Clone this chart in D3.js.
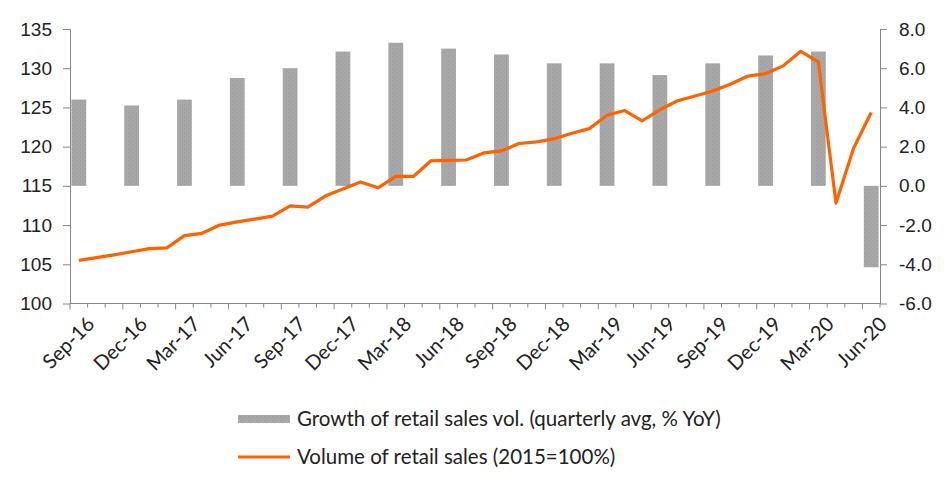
<!DOCTYPE html>
<html>
<head>
<meta charset="utf-8">
<script src="https://cdn.jsdelivr.net/npm/d3@7"></script>
<style>
  body { margin: 0; background: #fff; }
  svg { display: block; font-family: Lato, "Noto Sans", sans-serif; }
  .axis text { fill: #222; font-size: 19px; }
  .axis .lbl { font-size: 20px; }
  .legend text { fill: #222; font-size: 20.5px; }
  .axis path, .axis line { stroke: #868686; }
</style>
</head>
<body>
<div id="chart"></div>
<script>
// monthly categories Sep-16 .. Jun-20
var months = ["Sep-16","Oct-16","Nov-16","Dec-16","Jan-17","Feb-17","Mar-17","Apr-17","May-17","Jun-17",
  "Jul-17","Aug-17","Sep-17","Oct-17","Nov-17","Dec-17","Jan-18","Feb-18","Mar-18","Apr-18","May-18","Jun-18",
  "Jul-18","Aug-18","Sep-18","Oct-18","Nov-18","Dec-18","Jan-19","Feb-19","Mar-19","Apr-19","May-19","Jun-19",
  "Jul-19","Aug-19","Sep-19","Oct-19","Nov-19","Dec-19","Jan-20","Feb-20","Mar-20","Apr-20","May-20","Jun-20"];

// Volume of retail sales (2015=100%), left axis
var volume = [105.5, 105.85, 106.2, 106.6, 107.0, 107.1, 108.65, 108.95, 110.0, 110.4,
  110.75, 111.15, 112.45, 112.3, 113.7, 114.6, 115.5, 114.75, 116.2, 116.2, 118.2,
  118.25, 118.3, 119.2, 119.45, 120.4, 120.6, 121.0, 121.7, 122.3, 124.0, 124.6,
  123.3, 124.7, 125.85, 126.45, 127.1, 127.95, 129.0, 129.3, 130.3, 132.15, 130.8,
  112.8, 119.8, 124.35];

// Growth of retail sales vol. (quarterly avg, % YoY), right axis
var quarters = ["Sep-16","Dec-16","Mar-17","Jun-17","Sep-17","Dec-17","Mar-18","Jun-18",
  "Sep-18","Dec-18","Mar-19","Jun-19","Sep-19","Dec-19","Mar-20","Jun-20"];
var growth = [4.4, 4.1, 4.4, 5.5, 6.0, 6.85, 7.3, 7.0, 6.7, 6.25, 6.25, 5.65, 6.25, 6.65, 6.85, -4.15];

var leftTicks = [100, 105, 110, 115, 120, 125, 130, 135];
var rightTicks = [-6, -4, -2, 0, 2, 4, 6, 8];

var legendLabels = ["Growth of retail sales vol. (quarterly avg, % YoY)", "Volume of retail sales (2015=100%)"];

var width = 952, height = 491;
var margin = {top: 29, right: 72, bottom: 187.5, left: 70};

var svg = d3.select("#chart").append("svg")
    .attr("width", width)
    .attr("height", height);

var defs = svg.append("defs");
var pat = defs.append("pattern")
    .attr("id", "dots")
    .attr("width", 4).attr("height", 4)
    .attr("patternUnits", "userSpaceOnUse");
pat.append("rect").attr("width", 4).attr("height", 4).attr("fill", "#a8a8a8");
pat.append("rect").attr("x", 0).attr("y", 0).attr("width", 1).attr("height", 1).attr("fill", "#9a9a9a");
pat.append("rect").attr("x", 2).attr("y", 2).attr("width", 1).attr("height", 1).attr("fill", "#9c9c9c");

var x = d3.scaleBand()
    .domain(months)
    .range([margin.left, width - margin.right])
    .padding(0);

var yL = d3.scaleLinear()
    .domain([100, 135])
    .range([height - margin.bottom, margin.top]);

var yR = d3.scaleLinear()
    .domain([-6, 8])
    .range([height - margin.bottom, margin.top]);

var bw = x.bandwidth();
var barW = bw * 0.84;

// bars
svg.append("g")
    .selectAll("rect")
    .data(quarters)
    .join("rect")
    .attr("x", function(d) { return x(d) + bw / 2 - barW / 2; })
    .attr("width", barW)
    .attr("y", function(d, i) { return yR(Math.max(0, growth[i])); })
    .attr("height", function(d, i) { return Math.abs(yR(growth[i]) - yR(0)); })
    .attr("fill", "url(#dots)");

// left axis
svg.append("g")
    .attr("class", "axis")
    .attr("transform", "translate(" + margin.left + ",0)")
    .call(d3.axisLeft(yL).tickValues(leftTicks).tickSize(7).tickPadding(11).tickSizeOuter(0).tickFormat(d3.format("d")));

// right axis
svg.append("g")
    .attr("class", "axis")
    .attr("transform", "translate(" + (width - margin.right) + ",0)")
    .call(d3.axisRight(yR).tickValues(rightTicks).tickSize(7).tickPadding(12).tickSizeOuter(0)
        .tickFormat(function(d) { return d.toFixed(1); }));

// x axis: line, tick marks at category boundaries, labels every quarter
var xg = svg.append("g").attr("class", "axis");
var y0 = height - margin.bottom;
xg.append("line")
    .attr("x1", margin.left).attr("x2", width - margin.right)
    .attr("y1", y0).attr("y2", y0);
var bounds = months.map(function(m) { return x(m); }).concat([x.range()[1]]);
xg.selectAll(".tk")
    .data(bounds)
    .join("line")
    .attr("class", "tk")
    .attr("x1", function(d) { return d; }).attr("x2", function(d) { return d; })
    .attr("y1", y0)
    .attr("y2", function(d, i) { return i % 3 == 0 ? y0 + 6 : y0 + 4; });
xg.selectAll(".lbl")
    .data(quarters)
    .join("text")
    .attr("class", "lbl")
    .attr("text-anchor", "end")
    .attr("transform", function(d) {
        return "translate(" + (x(d) + bw / 2 + 7) + "," + (y0 + 12) + ") rotate(-45)";
    })
    .attr("dy", "0.7em")
    .text(function(d) { return d; });

// line
var line = d3.line()
    .x(function(d, i) { return x(months[i]) + bw / 2; })
    .y(function(d) { return yL(d); });

svg.append("path")
    .datum(volume)
    .attr("d", line)
    .attr("fill", "none")
    .attr("stroke", "#ff6200")
    .attr("stroke-width", 3.2)
    .attr("stroke-linejoin", "round");

// legend
var lg = svg.append("g").attr("class", "legend");
lg.append("rect")
    .attr("x", 238).attr("y", 415).attr("width", 52).attr("height", 8)
    .attr("fill", "url(#dots)");
lg.append("line")
    .attr("x1", 238).attr("x2", 290).attr("y1", 457).attr("y2", 457)
    .attr("stroke", "#ff6200").attr("stroke-width", 3);
lg.selectAll("text")
    .data(legendLabels)
    .join("text")
    .attr("x", 297)
    .attr("y", function(d, i) { return 419 + i * 38; })
    .attr("dy", "0.35em")
    .text(function(d) { return d; });
</script>
</body>
</html>
